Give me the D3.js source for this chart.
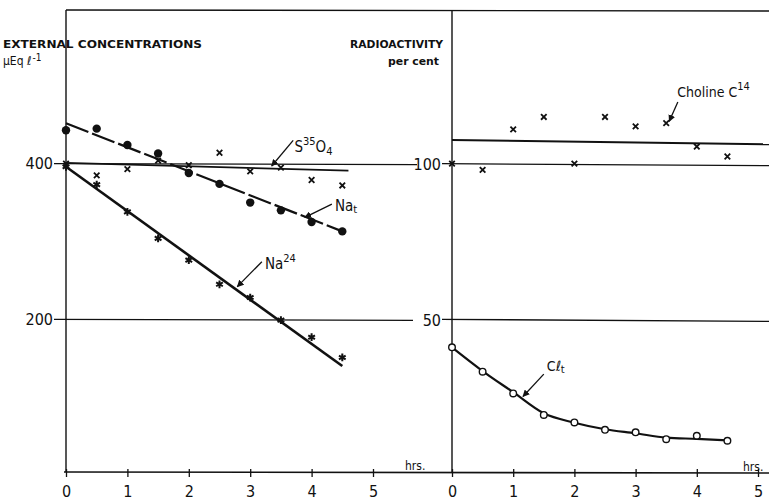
<!DOCTYPE html>
<html>
<head>
<meta charset="utf-8">
<script src="https://cdn.jsdelivr.net/npm/d3@7"></script>
<style>
  body { margin: 0; background: #fff; }
  svg { display: block; }
  text { font-family: "DejaVu Sans Condensed", "Liberation Sans Narrow", "DejaVu Sans", sans-serif; fill: #111; }
</style>
</head>
<body>
<div id="chart"></div>
<script>
// sampling times, hours
const hours = [0, 0.5, 1, 1.5, 2, 2.5, 3, 3.5, 4, 4.5];

// left panel: external concentrations, µEq/l
const naTotal = [443, 445, 424, 413, 388, 374, 350, 340, 325, 313];
const sulphate = [400, 385, 393, 404, 398, 414, 390, 395, 379, 372];
const na24 = [396, 373, 338, 304, 276, 245, 228, 199, 177, 151];

// right panel: radioactivity, per cent
const choline = [100, 98, 111, 115, 100, 115, 112, 113, 105.5, 102.3];
const clTotal = [41, 33.2, 26.2, 19.3, 16.9, 14.5, 13.7, 11.5, 12.6, 11];

// drawn lines, [hour, value]
const naTotalFit = [[0, 452], [4.5, 313]];
const sulphateFit = [[0, 401], [4.6, 391]];
const na24Fit = [[0, 396], [4.5, 140]];
const cholineFit = [[0, 107.6], [5.3, 106.2]];
const clTotalFit = [[0, 41], [0.5, 33.4], [1, 26.6], [1.5, 19.8], [2, 16.8], [2.5, 14.7],
                    [3, 13.4], [3.5, 12.0], [4, 11.6], [4.5, 11.1]];

const hourTicks = [0, 1, 2, 3, 4, 5];
const concTicks = [200, 400];
const pctTicks = [50, 100];

const width = 769, height = 502;
const frameTop = 10, frameBottom = 472;

const svg = d3.select("#chart").append("svg")
    .attr("width", width)
    .attr("height", height);

svg.append("defs").append("marker")
    .attr("id", "arrow")
    .attr("viewBox", "0 0 10 10")
    .attr("refX", 9).attr("refY", 5)
    .attr("markerWidth", 7).attr("markerHeight", 7)
    .attr("markerUnits", "userSpaceOnUse")
    .attr("orient", "auto")
    .append("path")
    .attr("d", "M0,0L10,5L0,10Z")
    .attr("fill", "#111");

const xL = d3.scaleLinear().domain([0, 5]).range([66, 373]);
const xR = d3.scaleLinear().domain([0, 5]).range([452, 758]);
const yL = d3.scaleLinear().domain([0, 600]).range([475, 8]);
const yR = d3.scaleLinear().domain([0, 150]).range([475, 8]);

const ink = "#111";

// frame
const frame = svg.append("g").attr("stroke", ink).attr("fill", "none");
frame.append("line").attr("x1", xL(0)).attr("x2", width).attr("y1", frameTop).attr("y2", frameTop + 1).attr("stroke-width", 1.4);
frame.append("line").attr("x1", xL(0)).attr("x2", xL(0)).attr("y1", frameTop).attr("y2", frameBottom).attr("stroke-width", 1.4);
frame.append("line").attr("x1", xR(0)).attr("x2", xR(0)).attr("y1", frameTop + 1).attr("y2", frameBottom + 1).attr("stroke-width", 1.4);
frame.append("line").attr("x1", xL(0) - 2).attr("x2", width).attr("y1", frameBottom).attr("y2", frameBottom + 1).attr("stroke-width", 1.6);

// horizontal reference lines, broken by the right-hand labels
concTicks.forEach((v, i) => {
    const y = yL(v);
    frame.append("line").attr("x1", xL(0) - 12).attr("x2", 413 + i * 4).attr("y1", y).attr("y2", y + 1).attr("stroke-width", 1.3);
    frame.append("line").attr("x1", xR(0) - 10).attr("x2", width).attr("y1", yR(pctTicks[i])).attr("y2", yR(pctTicks[i]) + 2).attr("stroke-width", 1.3);
});

// y tick labels
svg.append("g").selectAll("text").data(concTicks).join("text")
    .attr("x", 53).attr("y", d => yL(d)).attr("dy", "0.36em")
    .attr("text-anchor", "end").attr("font-size", 16)
    .text(d => d);
svg.append("g").selectAll("text").data(pctTicks).join("text")
    .attr("x", 441).attr("y", d => yR(d) + 1).attr("dy", "0.36em")
    .attr("text-anchor", "end").attr("font-size", 16)
    .text(d => d);

// x axes
function hourAxis(x) {
    const g = svg.append("g")
        .attr("transform", `translate(0,${frameBottom})`)
        .call(d3.axisBottom(x).tickValues(hourTicks).tickSize(5).tickPadding(9).tickFormat(d3.format("d")));
    g.select(".domain").remove();
    g.selectAll(".tick line").attr("stroke", ink).attr("stroke-width", 1.3).attr("y1", -3);
    g.selectAll(".tick text").attr("font-size", 16).attr("fill", ink)
        .attr("font-family", "\"DejaVu Sans Condensed\", \"Liberation Sans Narrow\", sans-serif");
}
hourAxis(xL);
hourAxis(xR);

svg.append("text").attr("x", 405).attr("y", frameBottom - 2).attr("font-size", 12).text("hrs.");
svg.append("text").attr("x", 743).attr("y", frameBottom - 1).attr("font-size", 12).text("hrs.");

// titles
svg.append("text").attr("x", 3).attr("y", 48).attr("font-size", 11).attr("font-weight", "bold")
    .attr("textLength", 199).attr("lengthAdjust", "spacingAndGlyphs")
    .text("EXTERNAL  CONCENTRATIONS");
const unit = svg.append("text").attr("x", 3).attr("y", 65).attr("font-size", 12);
unit.append("tspan").text("\u03bcEq \u2113");
unit.append("tspan").attr("dy", -4).attr("font-size", 10).attr("dx", 1).text("-1");

svg.append("text").attr("x", 350).attr("y", 48).attr("font-size", 11).attr("font-weight", "bold")
    .attr("textLength", 93).attr("lengthAdjust", "spacingAndGlyphs")
    .text("RADIOACTIVITY");
svg.append("text").attr("x", 388).attr("y", 65).attr("font-size", 11).attr("font-weight", "bold")
    .attr("textLength", 51).attr("lengthAdjust", "spacingAndGlyphs")
    .text("per cent");

// fitted lines
const lineL = d3.line().x(d => xL(d[0])).y(d => yL(d[1]));
const lineR = d3.line().x(d => xR(d[0])).y(d => yR(d[1]));
const lineRc = d3.line().x(d => xR(d[0])).y(d => yR(d[1])).curve(d3.curveMonotoneX);

const fits = svg.append("g").attr("fill", "none").attr("stroke", ink);
fits.append("path").attr("d", lineL(sulphateFit)).attr("stroke-width", 1.8);
fits.append("path").attr("d", lineL(naTotalFit)).attr("stroke-width", 2.2).attr("stroke-dasharray", "24,4");
fits.append("path").attr("d", lineL(na24Fit)).attr("stroke-width", 2.6);
fits.append("path").attr("d", lineR(cholineFit)).attr("stroke-width", 2);
fits.append("path").attr("d", lineRc(clTotalFit)).attr("stroke-width", 2.2);

// markers
const pts = arr => hours.map((h, i) => [h, arr[i]]);

svg.append("g").selectAll("circle").data(pts(naTotal)).join("circle")
    .attr("cx", d => xL(d[0])).attr("cy", d => yL(d[1])).attr("r", 4.2).attr("fill", ink);

const cross = d3.symbol().type(d3.symbolX).size(22);
svg.append("g").selectAll("path").data(pts(sulphate)).join("path")
    .attr("transform", d => `translate(${xL(d[0])},${yL(d[1])})`)
    .attr("d", cross).attr("fill", "none").attr("stroke", ink).attr("stroke-width", 1.8);

const star = d3.symbol().type(d3.symbolAsterisk).size(42);
svg.append("g").selectAll("path").data(pts(na24)).join("path")
    .attr("transform", d => `translate(${xL(d[0])},${yL(d[1])})`)
    .attr("d", star).attr("fill", "none").attr("stroke", ink).attr("stroke-width", 2);

svg.append("g").selectAll("path").data(pts(choline)).join("path")
    .attr("transform", d => `translate(${xR(d[0])},${yR(d[1])})`)
    .attr("d", cross).attr("fill", "none").attr("stroke", ink).attr("stroke-width", 1.8);

svg.append("g").selectAll("circle").data(pts(clTotal)).join("circle")
    .attr("cx", d => xR(d[0])).attr("cy", d => yR(d[1])).attr("r", 3.3)
    .attr("fill", "#fff").attr("stroke", ink).attr("stroke-width", 1.4);

// labels with arrows, positions in data units of each panel
function arrow(x, y, from, to) {
    svg.append("line")
        .attr("x1", x(from[0])).attr("y1", y(from[1]))
        .attr("x2", x(to[0])).attr("y2", y(to[1]))
        .attr("stroke", ink).attr("stroke-width", 1.3)
        .attr("marker-end", "url(#arrow)");
}
// parts: [text, shift, size]
function label(x, y, at, parts) {
    const t = svg.append("text").attr("x", x(at[0])).attr("y", y(at[1])).attr("font-size", 15);
    parts.forEach(([s, dy, fs]) => t.append("tspan").attr("dy", dy).attr("font-size", fs).text(s));
}

label(xL, yL, [3.72, 415], [["S", 0, 15], ["35", -7, 11], ["O", 7, 15], ["4", 3, 11]]);
arrow(xL, yL, [3.70, 430], [3.35, 397]);

label(xL, yL, [4.38, 339], [["Na", 0, 15], ["t", 2, 11]]);
arrow(xL, yL, [4.33, 348], [3.89, 331]);

label(xL, yL, [3.24, 265], [["Na", 0, 15], ["24", -7, 11]]);
arrow(xL, yL, [3.19, 274], [2.79, 242]);

label(xR, yR, [3.68, 121.4], [["Choline C", 0, 14], ["14", -7, 11]]);
arrow(xR, yR, [3.69, 119.8], [3.55, 113.6]);

label(xR, yR, [1.55, 33.4], [["C\u2113", 0, 14], ["t", 2, 11]]);
arrow(xR, yR, [1.50, 32.4], [1.16, 25.2]);
</script>
</body>
</html>
